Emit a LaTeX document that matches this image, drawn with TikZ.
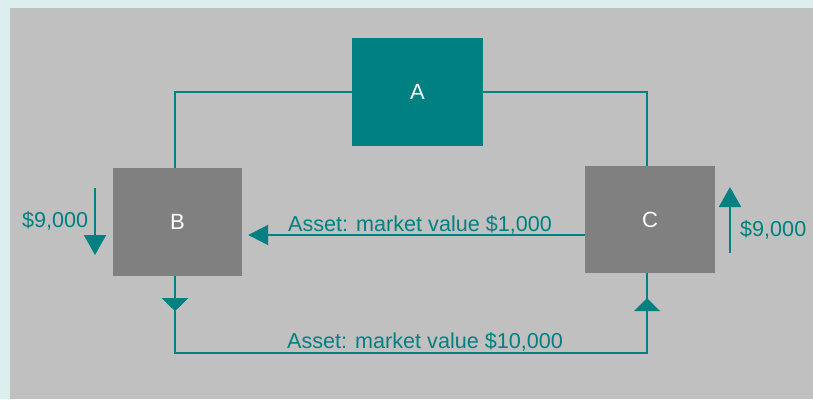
\documentclass[tikz,border=0pt]{standalone}
\usepackage{fontspec}
\setmainfont{Liberation Sans}
\usetikzlibrary{arrows.meta,decorations.markings}
\definecolor{teal0}{HTML}{008080}
\definecolor{boxgray}{HTML}{808080}
\definecolor{panel}{HTML}{C0C0C0}
\definecolor{frame}{HTML}{DDEEEE}
\begin{document}
\begin{tikzpicture}[x=1pt,y=-1pt,
  box/.style={rectangle, inner sep=0pt, text=white, font=\fontsize{22}{24}\selectfont},
  lbl/.style={text=teal0, inner sep=0pt, font=\fontsize{21.6}{24}\selectfont},
  conn/.style={draw=teal0, line width=2pt},
  bigtip/.style={-{Triangle[width=22pt,length=20pt]}},
  midtip/.style={postaction=decorate, decoration={markings,
     mark=at position 35pt with {\arrow{Triangle[width=26pt,length=13pt]}},
     mark=at position 603pt with {\arrow{Triangle[width=26pt,length=13pt]}}}}]
\fill[frame] (0,0) rectangle (813,399);
\fill[panel] (10,8) rectangle (813,399);
\useasboundingbox (0,0) rectangle (813,399);

\node[box, fill=teal0, minimum width=131pt, minimum height=108pt] (A) at (417.5,92) {A};
\node[box, fill=boxgray, minimum width=129pt, minimum height=108pt] (B) at (177.5,222) {B};
\node[box, fill=boxgray, minimum width=130pt, minimum height=107pt] (C) at (650,219.5) {C};

\coordinate (mid) at (0,235);
\coordinate (l1) at (95,188);
\coordinate (l2) at (95,255);
\coordinate (r1) at (730,253);
\coordinate (r2) at (730,187);

\draw[conn] ([xshift=-2.5pt]B.north) |- (A.west);
\draw[conn] (A.east) -| ([xshift=-3pt]C.north);
\draw[conn, -{Triangle[width=20pt,length=20pt]}, shorten >=6pt] (C.west |- mid) -- (B.east |- mid);
\draw[conn, midtip] ([xshift=-2.5pt]B.south) -- ++(0,76.5) -| ([xshift=-3pt]C.south);
\draw[conn, bigtip] (l1) -- (l2);
\draw[conn, bigtip] (r1) -- (r2);

\node[lbl, anchor=base west] (t1) at (288,231) {Asset: market value \$1,000};
\node[lbl, anchor=base west] (t2) at (287,348) {Asset: market value \$10,000};
\node[lbl, anchor=base west] (t3) at (22,227) {\$9,000};
\node[lbl, anchor=base west] (t4) at (740,236) {\$9,000};
\end{tikzpicture}
\end{document}
